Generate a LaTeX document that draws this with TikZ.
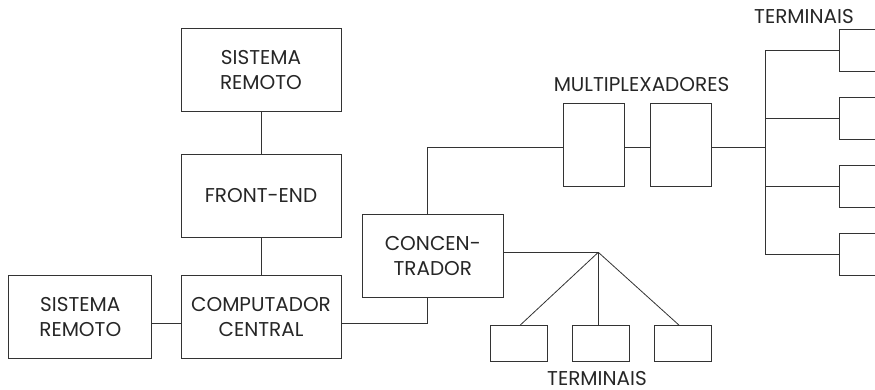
\documentclass[tikz,border=0pt]{standalone}
\usepackage{fontspec}
\setmainfont{Poppins}

\begin{document}
\begin{tikzpicture}[x=1pt,y=-1pt,
        box/.style={draw=black!80,line width=0.8pt,align=center,inner sep=0pt,
            text=black!85,font=\fontsize{20}{25}\selectfont},
        link/.style={draw=black!80,line width=0.8pt},
        lbl/.style={inner sep=0pt,text=black!85,font=\fontsize{20}{25}\selectfont}]
        \useasboundingbox (0,0) rectangle (875,389);

        \node[box,minimum width=160pt,minimum height=83pt] (remA) at (261,70) {SISTEMA\\REMOTO};
        \node[box,minimum width=160pt,minimum height=83pt] (front) at (261,195.5) {FRONT-END};
        \node[box,minimum width=160pt,minimum height=83pt] (comp) at (261,317.2) {COMPUTADOR\\CENTRAL};
        \node[box,minimum width=143pt,minimum height=83pt] (remB) at (80.3,317.2) {SISTEMA\\REMOTO};
        \node[box,minimum width=141pt,minimum height=83pt] (conc) at (432.8,256.3) {CONCEN-\\TRADOR};

        \node[box,minimum width=61pt,minimum height=83pt] (mux1) at (593.7,145.3) {};
        \node[box,minimum width=61pt,minimum height=83pt] (mux2) at (681.2,145.3) {};
        \node[lbl] (muxlbl) at (641.5,84.3) {MULTIPLEXADORES};

        \foreach \i/\y in {1/50,2/118,3/186.2,4/254.5}
            \node[box,minimum width=60pt,minimum height=42pt] (rt\i) at (869.3,\y) {};
        \node[lbl] (rtlbl) at (804,17) {TERMINAIS};

        \foreach \i/\x in {1/518.5,2/600.5,3/683.2}
            \node[box,minimum width=57pt,minimum height=36pt] (bt\i) at (\x,343.7) {};
        \node[lbl,anchor=north] (btlbl) at (597,371.5) {TERMINAIS};

        \coordinate (cj) at (427.7,323);
        \coordinate (mj) at (427.7,147.7);
        \coordinate (bus) at (765.5,147.7);
        \coordinate (fan) at (598.3,252.3);

        \draw[link] (remA) -- (front);
        \draw[link] (front) -- (comp);
        \draw[link] (remB.east |- cj) -- (comp.west |- cj);
        \draw[link] (comp.east |- cj) -- (cj) -- (conc.south -| cj);

        \draw[link] (conc.north -| mj) -- (mj) -- (mux1.west |- mj);
        \draw[link] (mux1.east |- mj) -- (mux2.west |- mj);
        \draw[link] (mux2.east |- mj) -- (bus);
        \draw[link] (bus |- rt1.west) -- (bus |- rt4.west);
        \foreach \i in {1,...,4}
            \draw[link] (bus |- rt\i.west) -- (rt\i.west);

        \draw[link] (conc.east |- fan) -- (fan);
        \draw[link] (fan) -- ([xshift=1.5pt]bt1.north);
        \draw[link] (fan) -- (bt2.north -| fan);
        \draw[link] (fan) -- ([xshift=-4pt]bt3.north);
    \end{tikzpicture}
\end{document}
